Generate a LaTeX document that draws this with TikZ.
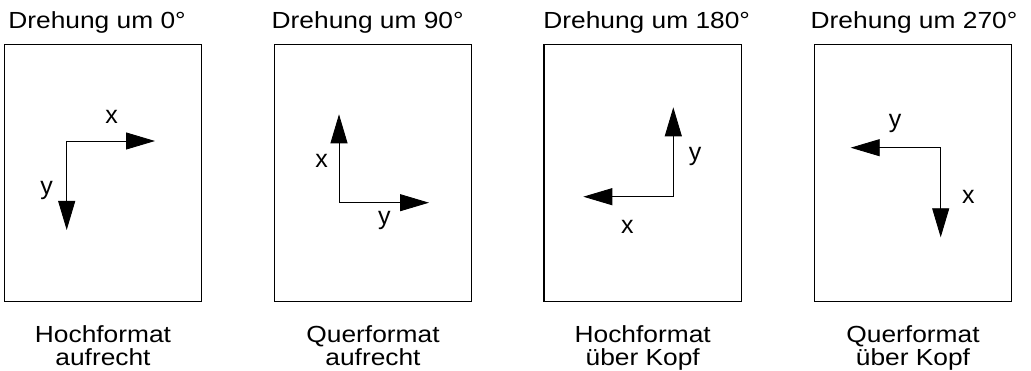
\documentclass[tikz,border=0pt]{standalone}
\usepackage{fontspec}
\setmainfont[FakeStretch=1.13]{Liberation Sans}
\newfontfamily\axisfont{Liberation Sans}
\usetikzlibrary{arrows.meta}
\begin{document}
\begin{tikzpicture}[x=1pt,y=-1pt,
  page/.style={draw, line width=1.2pt, minimum width=197.4pt, minimum height=257.4pt,
               inner sep=0pt, outer sep=0pt, anchor=north west},
  axis/.style={line width=0.9pt, -{Triangle[length=29pt 0,width=17pt 0]}},
  lbl/.style={font=\fontsize{23.3}{23}\selectfont, inner sep=0pt},
  axislbl/.style={font=\axisfont\fontsize{25}{25}\selectfont, inner sep=0pt},
  title/.style={lbl, anchor=base west},
  caption/.style={lbl, align=center, anchor=north},
]
\useasboundingbox (0,0) rectangle (1031,371);

% the four page outlines
\node[page] (p1) at (4.3,44.3) {};
\node[page] (p2) at (274.3,44.3) {};
\node[page] (p3) at (544,44.3) {};
\node[page] (p4) at (814.3,44.3) {};

% headings
\node[title] (t1) at (8.2,28.3) {Drehung um 0°};
\node[title] (t2) at (271.5,28.3) {Drehung um 90°};
\node[title] (t3) at (543.2,28.3) {Drehung um 180°};
\node[title] (t4) at (810.5,28.3) {Drehung um 270°};

% captions below the pages
\node[caption] (c1) at (p1.south |- 0,325.3) {Hochformat\\aufrecht};
\node[caption] (c2) at (p2.south |- 0,325.3) {Querformat\\aufrecht};
\node[caption] (c3) at (p3.south |- 0,325.3) {Hochformat\\über Kopf};
\node[caption] (c4) at (p4.south |- 0,325.3) {Querformat\\über Kopf};

% 0 degrees
\coordinate (o1) at (66.7,141);
\coordinate (x1) at (155,141);
\coordinate (y1) at (66.7,230);
\draw[axis] (o1) -- (x1);
\draw[axis] (o1) -- (y1);
\node[axislbl] (lx1) at (111.7,116.7) {x};
\node[axislbl] (ly1) at (46.7,190) {y};

% 90 degrees
\coordinate (o2) at (339,202.7);
\coordinate (x2) at (339,114.3);
\coordinate (y2) at (429,202.7);
\draw[axis] (o2) -- (x2);
\draw[axis] (o2) -- (y2);
\node[axislbl] (lx2) at (321.7,161) {x};
\node[axislbl] (ly2) at (384.3,220) {y};

% 180 degrees
\coordinate (o3) at (673.3,196.7);
\coordinate (y3) at (673.3,107.3);
\coordinate (x3) at (583.3,196.7);
\draw[axis] (o3) -- (y3);
\draw[axis] (o3) -- (x3);
\node[axislbl] (ly3) at (695,156.7) {y};
\node[axislbl] (lx3) at (627.3,226.7) {x};

% 270 degrees
\coordinate (o4) at (940.7,147.7);
\coordinate (y4) at (850.7,147.7);
\coordinate (x4) at (940.7,237.3);
\draw[axis] (o4) -- (y4);
\draw[axis] (o4) -- (x4);
\node[axislbl] (ly4) at (895,123.3) {y};
\node[axislbl] (lx4) at (968.3,196.7) {x};
\end{tikzpicture}
\end{document}
